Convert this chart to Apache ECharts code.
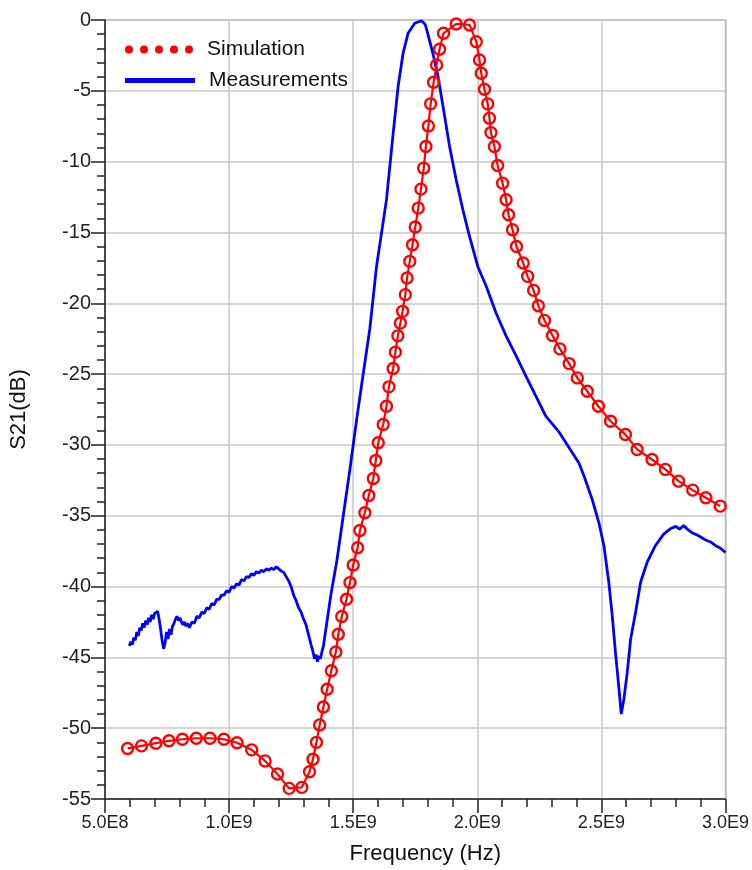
<!DOCTYPE html>
<html>
<head>
<meta charset="utf-8">
<script src="https://cdn.jsdelivr.net/npm/echarts@6/dist/echarts.min.js"></script>
<style>
  html, body { margin: 0; padding: 0; background: #fff; }
  #chart { width: 752px; height: 870px; }
</style>
</head>
<body>
<div id="chart"></div>
<script>
// frequency in GHz, S21 in dB
var xTickLabels = ['5.0E8', '1.0E9', '1.5E9', '2.0E9', '2.5E9', '3.0E9'];

var simFreq = [0.591, 0.647, 0.705, 0.758, 0.812, 0.868, 0.923, 0.979, 1.032, 1.091,
  1.145, 1.195, 1.242, 1.293, 1.324, 1.338, 1.352, 1.365, 1.380, 1.395,
  1.412, 1.430, 1.440, 1.454, 1.473, 1.487, 1.500, 1.518, 1.527, 1.547,
  1.563, 1.581, 1.591, 1.601, 1.621, 1.634, 1.644, 1.661, 1.670, 1.680,
  1.690, 1.699, 1.710, 1.717, 1.728, 1.739, 1.750, 1.762, 1.773, 1.784,
  1.793, 1.803, 1.812, 1.824, 1.836, 1.848, 1.864, 1.915, 1.969, 1.996,
  2.009, 2.016, 2.029, 2.042, 2.049, 2.055, 2.069, 2.082, 2.102, 2.116,
  2.126, 2.142, 2.158, 2.185, 2.203, 2.227, 2.246, 2.271, 2.303, 2.333,
  2.370, 2.403, 2.443, 2.488, 2.537, 2.597, 2.644, 2.704, 2.758, 2.811,
  2.868, 2.921, 2.979];
var simDb = [-51.43, -51.25, -51.06, -50.89, -50.78, -50.71, -50.71, -50.78, -51.03, -51.53,
  -52.31, -53.24, -54.25, -54.18, -53.08, -52.19, -51.0, -49.77, -48.5, -47.25,
  -45.95, -44.62, -43.37, -42.12, -40.9, -39.72, -38.48, -37.26, -36.04, -34.79,
  -33.57, -32.37, -31.1, -29.85, -28.56, -27.27, -25.9, -24.6, -23.45, -22.3,
  -21.4, -20.57, -19.39, -18.22, -17.04, -15.87, -14.62, -13.28, -11.94, -10.46,
  -8.93, -7.48, -5.92, -4.4, -3.17, -2.07, -0.94, -0.28, -0.35, -1.53,
  -2.82, -3.76, -4.89, -5.92, -6.93, -7.95, -8.93, -10.27, -11.52, -12.69,
  -13.75, -14.81, -15.99, -17.16, -18.1, -19.09, -20.17, -21.21, -22.28, -23.22,
  -24.26, -25.27, -26.21, -27.27, -28.33, -29.27, -30.32, -31.03, -31.73, -32.56,
  -33.19, -33.73, -34.32];

var measFreq = [0.598, 0.604, 0.610, 0.616, 0.622, 0.628, 0.634, 0.640, 0.646, 0.652,
  0.658, 0.664, 0.670, 0.676, 0.682, 0.688, 0.694, 0.700, 0.706, 0.712,
  0.718, 0.724, 0.730, 0.736, 0.742, 0.748, 0.754, 0.760, 0.766, 0.772,
  0.778, 0.784, 0.790, 0.796, 0.802, 0.808, 0.814, 0.820, 0.826, 0.832,
  0.840, 0.850, 0.860, 0.870, 0.880, 0.890, 0.900, 0.910, 0.920, 0.930,
  0.940, 0.950, 0.960, 0.970, 0.980, 0.990, 1.000, 1.010, 1.020, 1.030,
  1.040, 1.050, 1.060, 1.070, 1.080, 1.090, 1.100, 1.110, 1.120, 1.130,
  1.140, 1.150, 1.160, 1.170, 1.180, 1.190, 1.200, 1.210, 1.220, 1.230,
  1.240, 1.250, 1.260, 1.270, 1.280, 1.290, 1.300, 1.310, 1.320, 1.330,
  1.338, 1.344, 1.350, 1.356, 1.362, 1.368, 1.374, 1.380, 1.390, 1.400,
  1.410, 1.434, 1.460, 1.487, 1.514, 1.541, 1.567, 1.594, 1.634, 1.661,
  1.681, 1.701, 1.721, 1.748, 1.775, 1.790, 1.801, 1.821, 1.842, 1.862,
  1.888, 1.915, 1.942, 1.969, 2.002, 2.036, 2.076, 2.116, 2.156, 2.196,
  2.236, 2.276, 2.330, 2.383, 2.410, 2.430, 2.463, 2.490, 2.510, 2.530,
  2.544, 2.557, 2.571, 2.580, 2.591, 2.604, 2.618, 2.638, 2.658, 2.684,
  2.718, 2.751, 2.780, 2.800, 2.815, 2.831, 2.850, 2.865, 2.890, 2.918,
  2.940, 2.959, 2.980, 3.000];
var measDb = [-44.2, -43.9, -44.1, -43.6, -43.8, -43.2, -43.5, -42.9, -43.1, -42.6,
  -42.9, -42.4, -42.7, -42.2, -42.5, -42.0, -42.3, -41.9, -41.8, -41.75,
  -42.3, -43.0, -43.8, -44.4, -44.0, -43.2, -43.7, -43.0, -43.4, -42.8,
  -42.6, -42.3, -42.1, -42.4, -42.2, -42.5, -42.7, -42.5, -42.8, -42.6,
  -42.9, -42.5, -42.6, -42.1, -42.2, -41.8, -41.9, -41.5, -41.6, -41.2,
  -41.3, -40.9, -40.9, -40.6, -40.6, -40.3, -40.4, -40.0, -40.1, -39.8,
  -39.9, -39.5, -39.6, -39.3, -39.35, -39.1, -39.2, -38.95, -39.05, -38.85,
  -38.95, -38.75, -38.85, -38.7, -38.8, -38.6, -38.75, -38.9, -39.0, -39.3,
  -39.6, -40.0, -40.6, -41.0, -41.5, -41.8, -42.3, -42.7, -43.4, -44.1,
  -44.6, -45.1, -44.8, -45.3, -44.9, -45.1, -44.6, -44.2, -43.0, -41.8,
  -40.6, -38.2, -35.0, -31.7, -28.2, -24.9, -21.8, -17.4, -12.7, -8.0,
  -4.7, -2.35, -0.94, -0.23, -0.05, -0.3, -1.0, -2.35, -4.0, -6.1,
  -8.9, -11.3, -13.4, -15.3, -17.4, -18.8, -20.7, -22.3, -23.7, -25.15,
  -26.56, -27.97, -29.1, -30.56, -31.3, -32.2, -33.85, -35.5, -37.1, -39.7,
  -42.1, -44.7, -47.25, -49.0, -47.9, -46.1, -43.7, -41.8, -39.7, -38.3,
  -37.1, -36.3, -35.9, -35.75, -35.95, -35.7, -36.0, -36.2, -36.4, -36.7,
  -36.85, -37.1, -37.3, -37.6];

function pairs(xs, ys) {
  var out = [];
  for (var i = 0; i < xs.length; i++) out.push([xs[i], ys[i]]);
  return out;
}

var chart = echarts.init(document.getElementById('chart'));
var font = '"Liberation Sans", Arial, sans-serif';
// five dots for the simulation legend swatch
var dotsIcon = 'path://M0,4a4,4 0 1,0 8,0a4,4 0 1,0 -8,0Z' +
  'M15,4a4,4 0 1,0 8,0a4,4 0 1,0 -8,0Z' +
  'M30,4a4,4 0 1,0 8,0a4,4 0 1,0 -8,0Z' +
  'M45,4a4,4 0 1,0 8,0a4,4 0 1,0 -8,0Z' +
  'M60,4a4,4 0 1,0 8,0a4,4 0 1,0 -8,0Z';

var option = {
  animation: false,
  backgroundColor: '#fff',
  textStyle: { fontFamily: font },
  grid: {
    left: 104, right: 25, top: 20, bottom: 70,
    show: true, borderColor: '#808080', borderWidth: 1.2
  },
  legend: [{
    data: [{ name: 'Simulation', icon: dotsIcon,
      itemStyle: { color: '#ff0000', borderWidth: 0 } }],
    left: 120, top: 34,
    itemWidth: 68, itemHeight: 8,
    textStyle: { fontSize: 21, color: '#111', fontFamily: font, padding: [0, 0, 0, 9] }
  }, {
    data: [{ name: 'Measurements', icon: 'rect' }],
    left: 120, top: 65,
    itemWidth: 70, itemHeight: 5,
    textStyle: { fontSize: 21, color: '#111', fontFamily: font, padding: [0, 0, 0, 9] }
  }],
  xAxis: {
    type: 'value',
    min: 0.5, max: 3.0, interval: 0.5,
    name: 'Frequency (Hz)',
    nameLocation: 'middle',
    nameGap: 44,
    nameTextStyle: { fontSize: 22, color: '#111', padding: [0, 0, 0, 20] },
    axisLine: { onZero: false, lineStyle: { color: '#222', width: 1.5 } },
    axisTick: { length: 14, lineStyle: { color: '#222', width: 1.5 } },
    minorTick: { show: true, splitNumber: 5, length: 8, lineStyle: { color: '#222', width: 1.5 } },
    axisLabel: {
      fontSize: 18, color: '#222', margin: 15,
      formatter: function (v) { return xTickLabels[Math.round((v - 0.5) / 0.5)]; }
    },
    splitLine: { lineStyle: { color: '#c8c8c8', width: 1.5 } }
  },
  yAxis: {
    type: 'value',
    min: -55, max: 0, interval: 5,
    name: 'S21(dB)',
    nameLocation: 'middle',
    nameRotate: 90,
    nameGap: 75,
    nameTextStyle: { fontSize: 22, color: '#111' },
    axisLine: { show: true, onZero: false, lineStyle: { color: '#222', width: 1.5 } },
    axisTick: { show: true, length: 14, lineStyle: { color: '#222', width: 1.5 } },
    minorTick: { show: true, splitNumber: 5, length: 8, lineStyle: { color: '#222', width: 1.5 } },
    axisLabel: { fontSize: 20, color: '#222', margin: 14 },
    splitLine: { lineStyle: { color: '#c8c8c8', width: 1.5 } }
  },
  series: [{
    name: 'Simulation',
    type: 'line',
    data: pairs(simFreq, simDb),
    symbol: 'circle',
    symbolSize: 11,
    lineStyle: { color: '#ff0000', width: 2.2 },
    // hollow circles so the connecting line shows through each marker
    itemStyle: { color: 'rgba(255,255,255,0)', borderColor: '#ff0000', borderWidth: 2.4 },
    z: 3
  }, {
    name: 'Measurements',
    type: 'line',
    data: pairs(measFreq, measDb),
    showSymbol: false,
    lineStyle: { color: '#0000ff', width: 2.8 },
    itemStyle: { color: '#0000ff' },
    z: 2
  }]
};
chart.setOption(option);
</script>
</body>
</html>
